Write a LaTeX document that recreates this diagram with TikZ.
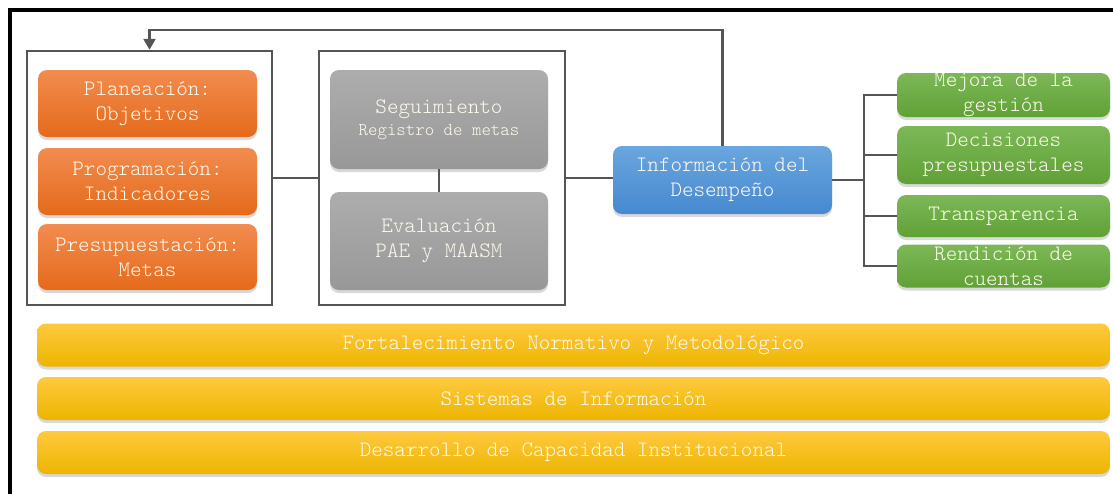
\documentclass[tikz,border=0pt]{standalone}
\usepackage{fontspec}
\setmonofont{Latin Modern Mono Light}
\usepackage{tikz}
\usetikzlibrary{arrows.meta,shadows}

\definecolor{orgtop}{HTML}{F28C50}
\definecolor{orgbot}{HTML}{E46A1A}
\definecolor{grytop}{HTML}{ADADAD}
\definecolor{grybot}{HTML}{989898}
\definecolor{blutop}{HTML}{6AA6DE}
\definecolor{blubot}{HTML}{4689D0}
\definecolor{grntop}{HTML}{7CB857}
\definecolor{grnbot}{HTML}{60A136}
\definecolor{yeltop}{HTML}{FFC93F}
\definecolor{yelbot}{HTML}{EDB500}
\definecolor{linegray}{HTML}{555555}
\definecolor{txt}{HTML}{FFFAEE}

\tikzstyle{conn} = [draw=linegray, line width=2.5pt]
\tikzstyle{frame} = [draw=linegray, line width=2.5pt, fill=white, inner sep=0pt]
\tikzstyle{box} = [rounded corners=9pt, inner sep=0pt, align=center, text=txt,
  font=\ttfamily\fontsize{22}{25}\selectfont,
  drop shadow={shadow xshift=0pt, shadow yshift=-3pt, opacity=0.3}]
\tikzstyle{orangebox} = [box, top color=orgtop, bottom color=orgbot, minimum width=219pt]
\tikzstyle{graybox} = [box, top color=grytop, bottom color=grybot, minimum width=218pt]
\tikzstyle{bluebox} = [box, top color=blutop, bottom color=blubot, minimum width=219pt]
\tikzstyle{greenbox} = [box, top color=grntop, bottom color=grnbot, minimum width=213pt]
\tikzstyle{yellowbar} = [box, top color=yeltop, bottom color=yelbot, minimum width=1073pt, minimum height=43pt]

\begin{document}
\begin{tikzpicture}[x=1pt,y=-1pt]
		\useasboundingbox (0,0) rectangle (1113,493); % picture size
		
		\draw[line width=3.5pt] (10,500) -- (10,10) -- (1120,10); % outer frame
		
		\node[frame, minimum width=245pt, minimum height=254pt] (planbox) at (149.5,178) {}; % left container
		\node[frame, minimum width=246pt, minimum height=254pt] (evalbox) at (442,178) {}; % middle container
		
		\node[orangebox, minimum height=67pt] (plan) at (147.5,103.5) {Planeación:\\Objetivos};
		\node[orangebox, minimum height=67pt] (prog) at (147.5,181.5) {Programación:\\Indicadores};
		\node[orangebox, minimum height=66pt] (presu) at (147.5,257) {Presupuestación:\\Metas};
		
		\node[graybox, minimum height=99pt] (segui) at (439,119.5) {Seguimiento\\[-3pt]{\fontsize{18}{20}\selectfont Registro de metas}};
		\node[graybox, minimum height=98pt] (evalu) at (439,241) {Evaluación\\PAE y MAASM};
		
		\node[bluebox, minimum height=68pt] (info) at (722.5,180) {Información del\\Desempeño};
		
		\node[greenbox, minimum height=44pt] (mejora) at (1003.5,95) {Mejora de la\\gestión};
		\node[greenbox, minimum height=58pt] (decis) at (1003.5,155) {Decisiones\\presupuestales};
		\node[greenbox, minimum height=42pt] (transp) at (1003.5,216) {Transparencia};
		\node[greenbox, minimum height=43pt] (rendi) at (1003.5,266) {Rendición de\\cuentas};
		
		\node[yellowbar] (fort) at (573.5,345) {Fortalecimiento Normativo y Metodológico};
		\node[yellowbar] (sist) at (573.5,398.5) {Sistemas de Información};
		\node[yellowbar] (capa) at (573.5,452.5) {Desarrollo de Capacidad Institucional};
		
		\coordinate (top) at (0,30); % height of the return line
		\coordinate (brk) at (864,180); % bracket of the green boxes
		
		\draw[conn] (planbox.east) -- (evalbox.west); % left to middle
		\draw[conn] (evalbox.east) -- (evalbox.east -| info.west); % middle to info
		\draw[conn] (segui.south) -- (evalu.north); % seguimiento to evaluacion
		\draw[conn,-{Triangle[length=11pt,width=12pt]}] (info.north) -- (info.north |- top) -| (planbox.north); % return arrow
		
		\draw[conn] (info.east) -- (brk); % info to bracket
		\draw[conn] (mejora.west) -- (mejora.west -| brk) -- (rendi.west -| brk) -- (rendi.west); % bracket
		\draw[conn] (decis.west -| brk) -- (decis.west);
		\draw[conn] (transp.west -| brk) -- (transp.west);
		
\end{tikzpicture}
\end{document}
